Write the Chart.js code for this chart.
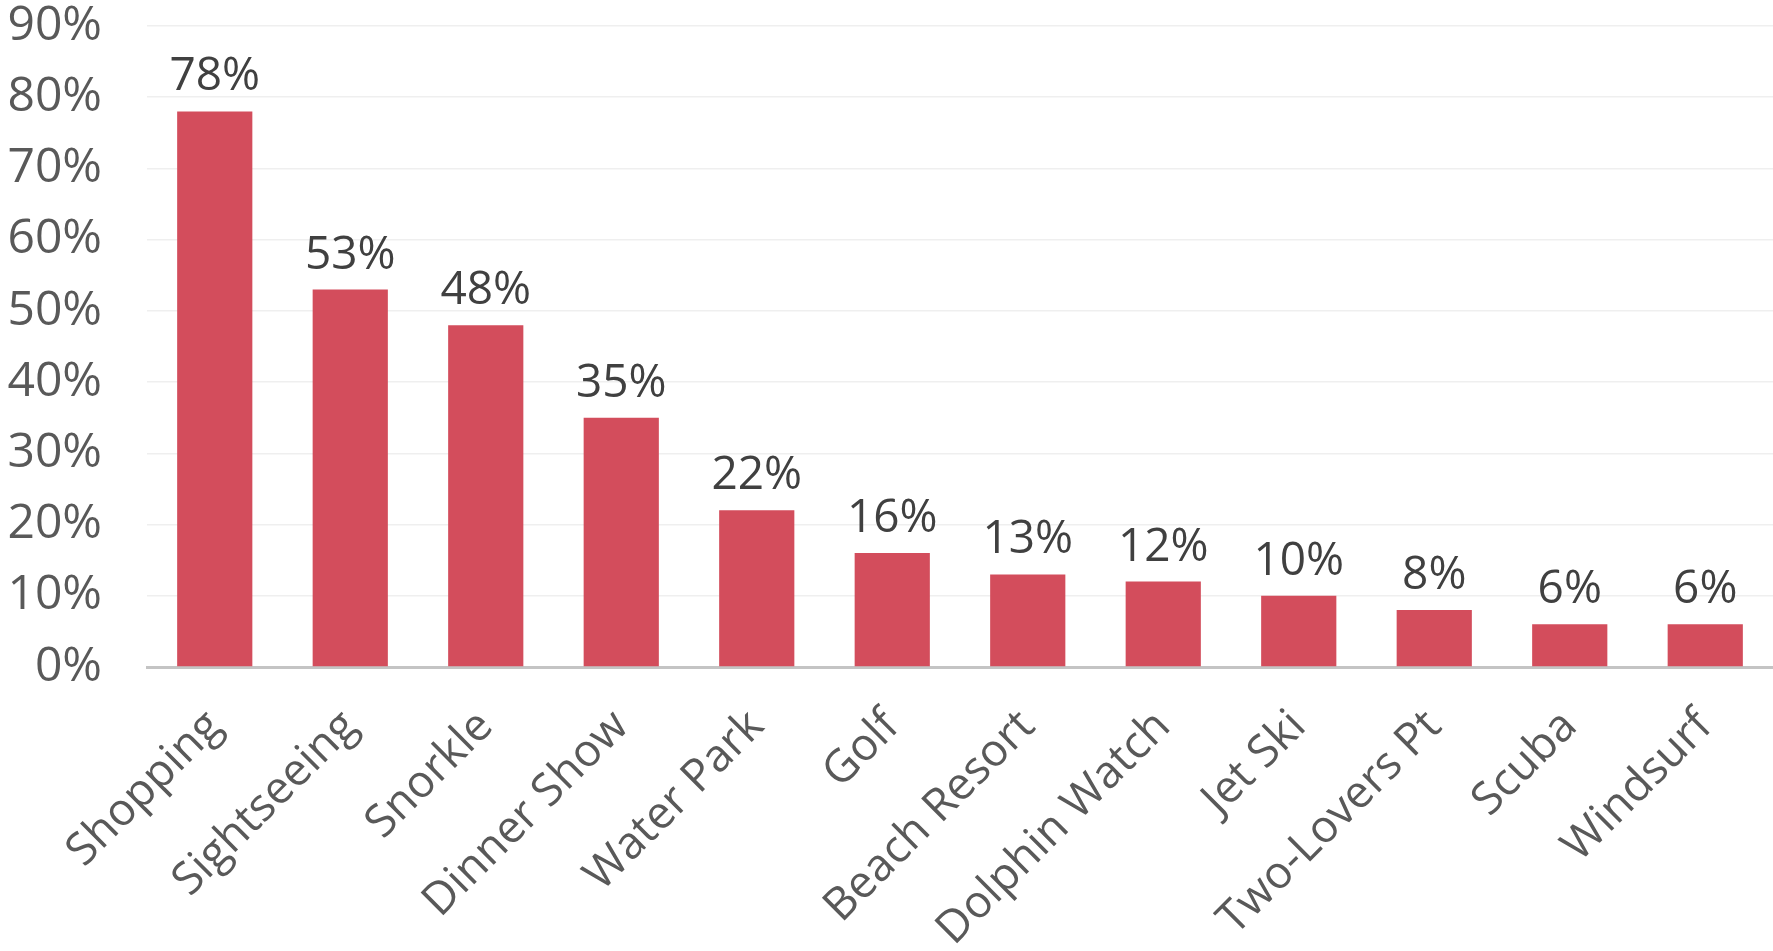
<!DOCTYPE html>
<html>
<head>
<meta charset="utf-8">
<title>Activities</title>
<script src="https://cdn.jsdelivr.net/npm/chart.js@4"></script>
<style>
    html, body { margin: 0; padding: 0; background: #fff; }
    #wrap { width: 1773px; height: 951px; }
</style>
</head>
<body>
<div id="wrap"><canvas id="activityChart"></canvas></div>
<script>
// data
const categories = ['Shopping', 'Sightseeing', 'Snorkle', 'Dinner Show', 'Water Park', 'Golf',
    'Beach Resort', 'Dolphin Watch', 'Jet Ski', 'Two-Lovers Pt', 'Scuba', 'Windsurf'];
const percentages = [78, 53, 48, 35, 22, 16, 13, 12, 10, 8, 6, 6];
const yTicks = [0, 10, 20, 30, 40, 50, 60, 70, 80, 90];

const fontFamily = "'Open Sans', 'Noto Sans', sans-serif";

// simple value labels above bars (no datalabels plugin available offline)
const barLabels = {
    id: 'barLabels',
    afterDatasetsDraw(chart) {
        const ctx = chart.ctx;
        const meta = chart.getDatasetMeta(0);
        ctx.save();
        ctx.font = '46px ' + fontFamily;
        ctx.fillStyle = '#404040';
        ctx.textAlign = 'center';
        ctx.textBaseline = 'alphabetic';
        meta.data.forEach((bar, i) => {
            ctx.fillText(percentages[i] + '%', bar.x, bar.y - 21);
        });
        ctx.restore();
    }
};

document.addEventListener('DOMContentLoaded', () => {
    const ctx = document.getElementById('activityChart').getContext('2d');
    new Chart(ctx, {
        type: 'bar',
        data: {
            labels: categories,
            datasets: [{
                data: percentages,
                backgroundColor: '#d34d5c',
                borderWidth: 0,
                categoryPercentage: 1,
                barPercentage: 0.555
            }]
        },
        options: {
            responsive: true,
            maintainAspectRatio: false,
            animation: false,
            layout: { padding: { left: 0, right: 0, top: 26, bottom: 0 } },
            plugins: {
                legend: { display: false },
                tooltip: { enabled: false }
            },
            scales: {
                x: {
                    grid: { display: false },
                    border: { color: '#c4c4c4', width: 3 },
                    ticks: {
                        color: '#595959',
                        font: { family: fontFamily, size: 45 },
                        minRotation: 45,
                        maxRotation: 45,
                        padding: 25
                    },
                    afterFit: axis => {
                        axis.paddingLeft = 0;
                        axis.paddingRight = 0;
                        axis.height = 284;
                    }
                },
                y: {
                    min: yTicks[0],
                    max: yTicks[yTicks.length - 1],
                    afterBuildTicks: axis => { axis.ticks = yTicks.map(v => ({ value: v })); },
                    grid: { color: '#efefef', lineWidth: 1.5, drawTicks: false },
                    border: { display: false },
                    ticks: {
                        color: '#595959',
                        font: { family: fontFamily, size: 48 },
                        padding: 45,
                        callback: value => value + '%'
                    },
                    afterFit: axis => {
                        axis.paddingTop = 0;
                        axis.paddingBottom = 0;
                        axis.width = 147;
                    }
                }
            }
        },
        plugins: [barLabels]
    });
});
</script>
</body>
</html>
